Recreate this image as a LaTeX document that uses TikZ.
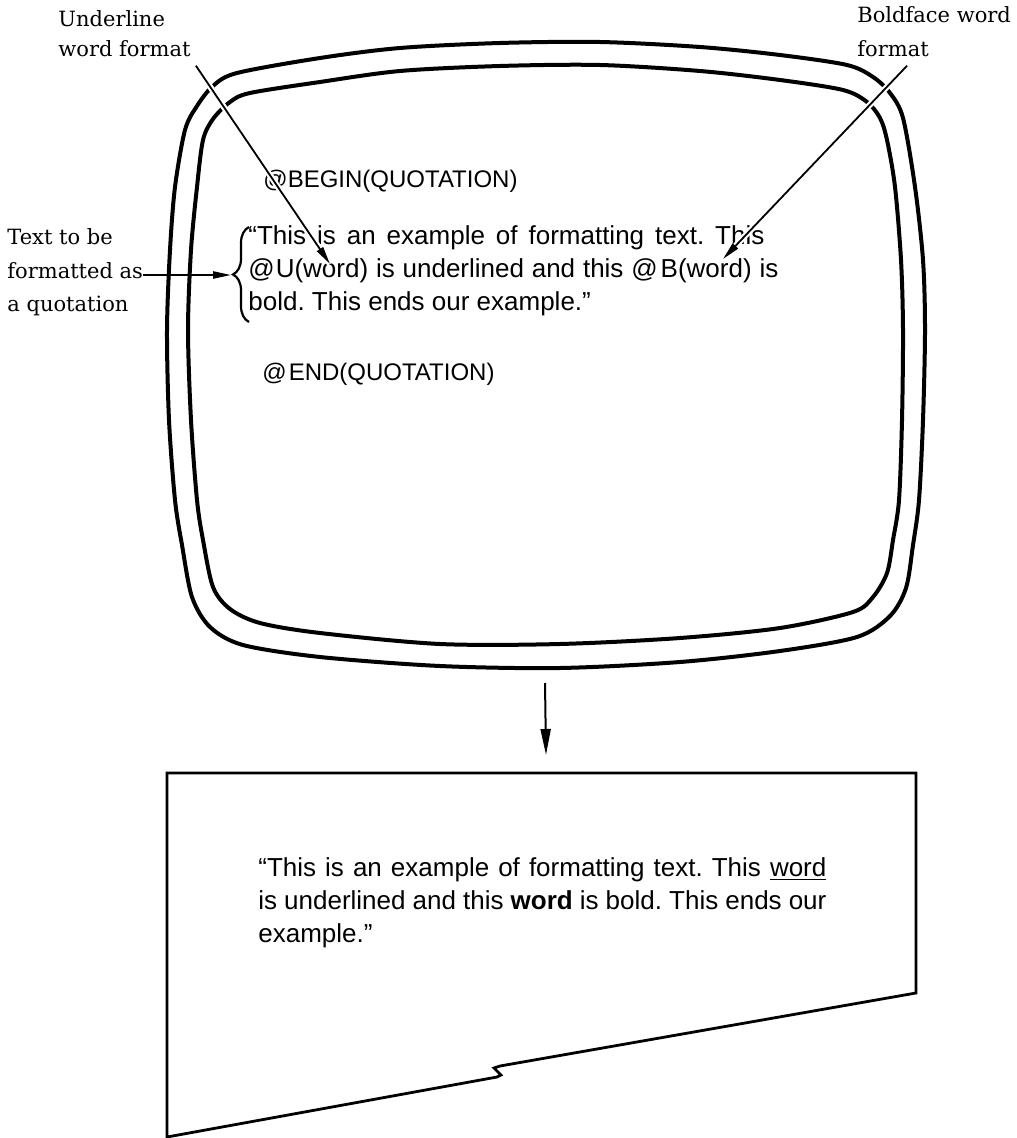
\documentclass[tikz,border=0pt]{standalone}
\usepackage{fontspec}
\setmainfont{DejaVu Serif}
\newfontfamily\screenfont{Liberation Sans}
\usepackage{tikz}
\usetikzlibrary{arrows.meta,decorations.pathreplacing}
\frenchspacing

\begin{document}
\begin{tikzpicture}[x=0.5pt,y=-0.5pt,
  frame/.style={line width=2pt, line join=round},
  sheet/.style={line width=1.4pt, line join=miter},
  pointer/.style={line width=0.9pt, -{Triangle[length=9pt,width=3.6pt]}},
  cut/.style={preaction={draw=white, line width=3pt, -}},
  label/.style={font=\fontsize{10.5}{15}\selectfont, anchor=base west, inner sep=0pt},
  screen/.style={font=\screenfont\fontsize{13}{16.5}\selectfont, anchor=base west, inner sep=0pt},
  caps/.style={font=\screenfont\fontsize{12}{16.5}\selectfont, anchor=base west, inner sep=0pt}]
  \useasboundingbox (0,0) rectangle (1016,1138);

  % Outer edge of the screen
  \draw[frame] plot[smooth cycle, tension=0.5] coordinates {
    (320,58) (400,48) (500,43) (600,42) (700,47) (780,55) (847,65) (873,77)
    (890,93) (903,118) (915,187) (923,260) (925,330) (923,420) (919,500)
    (913,545) (906,588) (890,616) (857,637) (780,651) (680,662) (560,668)
    (440,666) (320,657) (243,645) (210,627) (192,597) (182,545) (175,500)
    (169,420) (167,330) (170,250) (175,187) (185,130) (197,106) (213,86) (237,73)};
  % Inner edge of the screen
  \draw[frame] plot[smooth cycle, tension=0.5] coordinates {
    (320,82) (400,71) (500,66) (600,65) (700,71) (780,80) (843,90) (867,102)
    (880,118) (887,140) (895,187) (901,260) (903,330) (902,420) (899,500)
    (893,540) (887,573) (873,597) (853,612) (780,628) (680,638) (560,644)
    (440,644) (320,633) (260,623) (230,609) (213,587) (203,540) (197,500)
    (191,420) (188,330) (191,250) (197,187) (203,140) (213,119) (230,102) (250,93)};

  % Text as typed on the screen
  \node[caps] (qbegin) at (263,188) {@BEGIN(QUOTATION)};
  \node[screen] (qline1) at (248,245) {\makebox[258pt][s]{“This is an example of formatting text. This}};
  \node[screen] (qline2) at (248,278) {\makebox[265pt][s]{@\kern0.5ptU(word) is underlined and this @\kern1.5ptB(word) is}};
  \node[screen] (qline3) at (248,311) {bold. This ends our example.”};
  \node[caps] (qend) at (262,380) {@\kern1ptEND(QUOTATION)};

  % Brace round the quotation
  \draw[line width=1.1pt, decorate, decoration={brace, amplitude=8pt}] (249,322) -- (249,227);
  \coordinate (bracetip) at (231,275);

  % Labels
  \node[label] (ul1) at (58,27) {Underline};
  \node[label] (ul2) at (58,57) {word format};
  \node[label] (bf1) at (857,23) {Boldface word};
  \node[label] (bf2) at (857,57) {format};
  \node[label] (tq1) at (7,245) {Text to be};
  \node[label] (tq2) at (7,279) {formatted as};
  \node[label] (tq3) at (7,312) {a quotation};

  % Pointers
  \coordinate (ultip) at (330,264);
  \coordinate (bftip) at (723,259);
  \draw[pointer, cut] ([shift={(5,8)}]ul2.south east) -- (ultip);
  \draw[pointer, cut] ([shift={(14,8)}]bf2.south) -- (bftip);
  \draw[pointer] (tq2.east |- bracetip) -- (bracetip);

  % From screen to page
  \coordinate (screenfoot) at (545,683);
  \coordinate (sheettop) at (546,755);
  \draw[line width=1pt, -{Triangle[length=13pt,width=5pt]}] (screenfoot) -- (sheettop);

  % Torn page
  \draw[sheet] (167,773) -- (916,773) -- (916,993) -- (500,1066) -- (494,1068)
    -- (501,1075) -- (497,1077) -- (167,1137) -- cycle;

  % Formatted text on the page
  \node[screen] (pline1) at (258,876) {\makebox[284pt][s]{“This is an example of formatting text. This \underline{word}}};
  \node[screen] (pline2) at (258,909) {\makebox[284pt][s]{is underlined and this \textbf{word} is bold. This ends our}};
  \node[screen] (pline3) at (258,942) {example.”};
\end{tikzpicture}
\end{document}
